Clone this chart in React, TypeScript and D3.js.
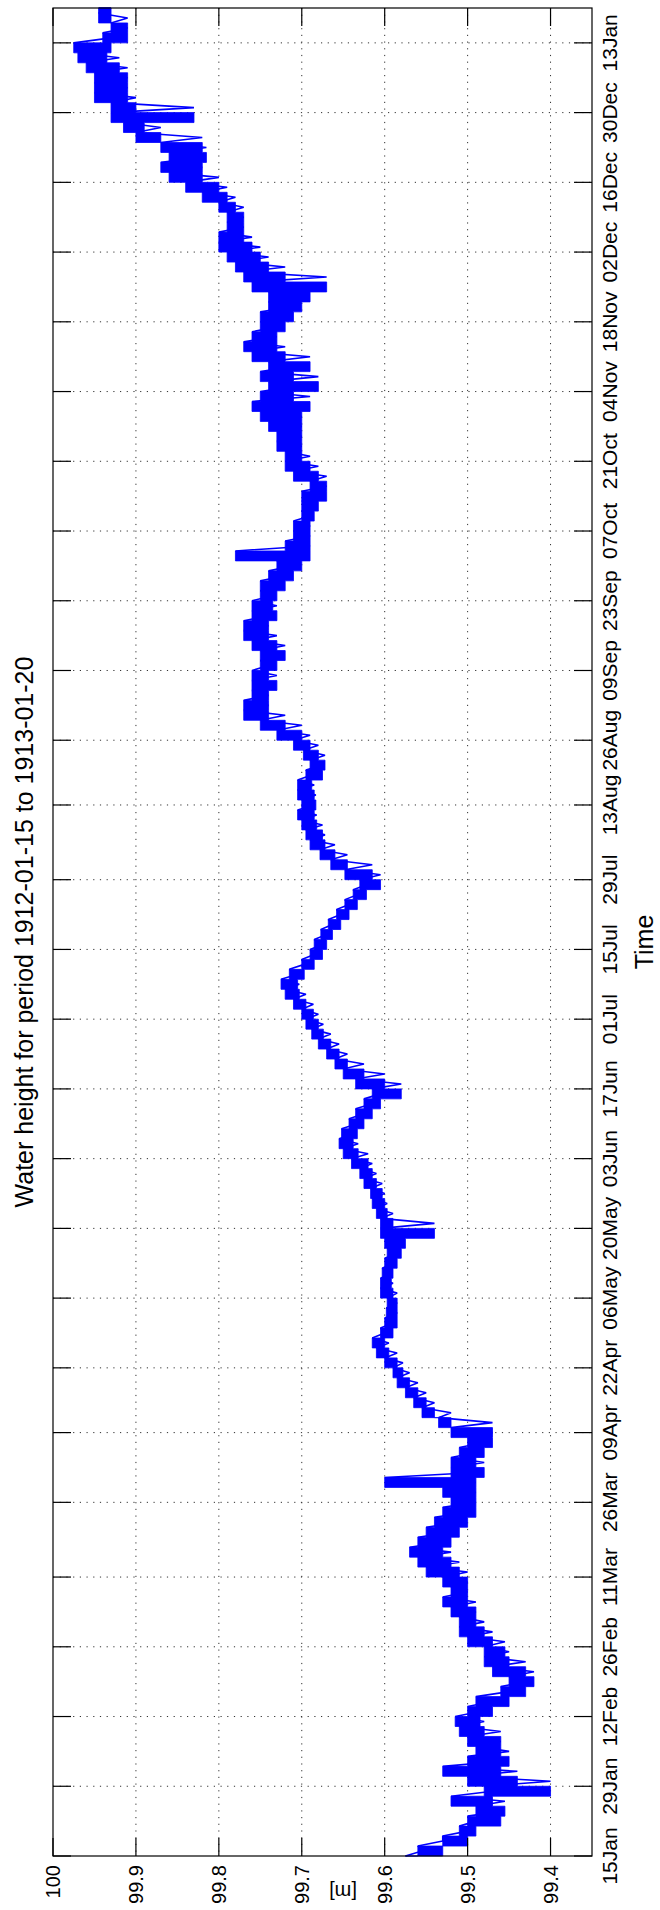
import React from 'react';
import * as d3 from 'd3';

const W = 660;
const H = 1910;

const startDate = '1912-01-15';
const endDate = '1913-01-20';

const tickDates = [
  '1912-01-15', '1912-01-29', '1912-02-12', '1912-02-26', '1912-03-11', '1912-03-26',
  '1912-04-09', '1912-04-22', '1912-05-06', '1912-05-20', '1912-06-03', '1912-06-17',
  '1912-07-01', '1912-07-15', '1912-07-29', '1912-08-13', '1912-08-26', '1912-09-09',
  '1912-09-23', '1912-10-07', '1912-10-21', '1912-11-04', '1912-11-18', '1912-12-02',
  '1912-12-16', '1912-12-30', '1913-01-13',
];

const valueTicks = [100, 99.9, 99.8, 99.7, 99.6, 99.5, 99.4];
const valueTickLabels = ['100', '99.9', '99.8', '99.7', '99.6', '99.5', '99.4'];

// days since 1912-01-15
const dayOffset = [
  0, 2, 4, 6, 8, 10, 12, 14, 16, 18, 20, 22, 24, 26, 28, 30, 32, 34, 36, 38,
  40, 42, 44, 46, 48, 50, 52, 54, 56, 58, 60, 62, 64, 66, 68, 70, 72, 74, 76, 78,
  80, 82, 84, 86, 88, 90, 92, 94, 96, 98, 100, 102, 104, 106, 108, 110, 112, 114, 116, 118,
  120, 122, 124, 126, 128, 130, 132, 134, 136, 138, 140, 142, 144, 146, 148, 150, 152, 154, 156, 158,
  160, 162, 164, 166, 168, 170, 172, 174, 176, 178, 180, 182, 184, 186, 188, 190, 192, 194, 196, 198,
  200, 202, 204, 206, 208, 210, 212, 214, 216, 218, 220, 222, 224, 226, 228, 230, 232, 234, 236, 238,
  240, 242, 244, 246, 248, 250, 252, 254, 256, 258, 260, 262, 264, 266, 268, 270, 272, 274, 276, 278,
  280, 282, 284, 286, 288, 290, 292, 294, 296, 298, 300, 302, 304, 306, 308, 310, 312, 314, 316, 318,
  320, 322, 324, 326, 328, 330, 332, 334, 336, 338, 340, 342, 344, 346, 348, 350, 352, 354, 356, 358,
  360, 362, 364, 366, 368, 370,
];

// upper reading of the water height in each 2-day window [m]
const levelHigh = [
  99.575, 99.56, 99.53, 99.51, 99.50, 99.49, 99.52, 99.48, 99.50, 99.53,
  99.50, 99.49, 99.50, 99.51, 99.515, 99.50, 99.49, 99.46, 99.45, 99.47,
  99.48, 99.48, 99.50, 99.51, 99.51, 99.52, 99.53, 99.52, 99.53, 99.55,
  99.56, 99.57, 99.56, 99.55, 99.54, 99.53, 99.52, 99.53, 99.60, 99.52,
  99.52, 99.51, 99.50, 99.52, 99.535, 99.555, 99.565, 99.575, 99.585, 99.59,
  99.60, 99.61, 99.615, 99.605, 99.60, 99.598, 99.597, 99.605, 99.605, 99.603,
  99.60, 99.597, 99.60, 99.605, 99.605, 99.61, 99.615, 99.617, 99.625, 99.63,
  99.64, 99.65, 99.655, 99.652, 99.643, 99.635, 99.625, 99.615, 99.635, 99.65,
  99.66, 99.67, 99.68, 99.688, 99.695, 99.70, 99.71, 99.72, 99.725, 99.715,
  99.70, 99.69, 99.685, 99.677, 99.668, 99.658, 99.648, 99.638, 99.63, 99.648,
  99.665, 99.678, 99.69, 99.695, 99.70, 99.705, 99.70, 99.705, 99.705, 99.695,
  99.69, 99.698, 99.71, 99.73, 99.75, 99.77, 99.77, 99.76, 99.76, 99.76,
  99.75, 99.75, 99.76, 99.77, 99.77, 99.76, 99.76, 99.75, 99.75, 99.74,
  99.73, 99.78, 99.72, 99.71, 99.71, 99.70, 99.70, 99.70, 99.69, 99.71,
  99.72, 99.72, 99.73, 99.73, 99.74, 99.75, 99.76, 99.75, 99.74, 99.75,
  99.74, 99.76, 99.77, 99.76, 99.75, 99.75, 99.74, 99.74, 99.76, 99.77,
  99.78, 99.79, 99.80, 99.80, 99.79, 99.79, 99.80, 99.82, 99.84, 99.86,
  99.87, 99.86, 99.87, 99.90, 99.915, 99.93, 99.93, 99.95, 99.95, 99.95,
  99.96, 99.97, 99.975, 99.94, 99.93, 99.945,
];

// lower reading of the water height in each 2-day window [m]
const levelLow = [
  99.555, 99.53, 99.50, 99.49, 99.46, 99.455, 99.47, 99.40, 99.44, 99.46,
  99.45, 99.46, 99.46, 99.48, 99.485, 99.47, 99.45, 99.43, 99.42, 99.43,
  99.45, 99.455, 99.47, 99.48, 99.49, 99.49, 99.50, 99.50, 99.50, 99.51,
  99.52, 99.53, 99.52, 99.51, 99.50, 99.49, 99.49, 99.49, 99.49, 99.48,
  99.49, 99.48, 99.47, 99.47, 99.52, 99.54, 99.55, 99.56, 99.57, 99.578,
  99.585, 99.595, 99.60, 99.59, 99.585, 99.585, 99.585, 99.59, 99.592, 99.59,
  99.585, 99.58, 99.575, 99.54, 99.59, 99.597, 99.60, 99.603, 99.61, 99.615,
  99.62, 99.632, 99.638, 99.633, 99.625, 99.615, 99.605, 99.58, 99.60, 99.625,
  99.645, 99.655, 99.665, 99.674, 99.68, 99.686, 99.695, 99.703, 99.705, 99.697,
  99.685, 99.675, 99.67, 99.663, 99.653, 99.643, 99.633, 99.622, 99.605, 99.615,
  99.645, 99.66, 99.672, 99.675, 99.682, 99.685, 99.683, 99.685, 99.688, 99.675,
  99.672, 99.68, 99.69, 99.70, 99.72, 99.74, 99.74, 99.74, 99.73, 99.74,
  99.73, 99.72, 99.73, 99.74, 99.74, 99.73, 99.735, 99.73, 99.72, 99.71,
  99.70, 99.69, 99.69, 99.69, 99.69, 99.685, 99.68, 99.67, 99.67, 99.68,
  99.69, 99.70, 99.70, 99.70, 99.70, 99.70, 99.69, 99.71, 99.68, 99.71,
  99.69, 99.72, 99.73, 99.73, 99.72, 99.71, 99.70, 99.69, 99.67, 99.72,
  99.74, 99.75, 99.76, 99.77, 99.77, 99.77, 99.78, 99.79, 99.80, 99.82,
  99.82, 99.815, 99.82, 99.87, 99.89, 99.83, 99.90, 99.91, 99.91, 99.91,
  99.92, 99.935, 99.93, 99.91, 99.91, 99.93,
];

const DAY = 86400000;
const FONT = '"Liberation Sans", Arial, Helvetica, sans-serif';

type Bin = { t: Date; hi: number; lo: number };

export default function App() {
  const left = 53;
  const right = 592;
  const top = 8;
  const bottom = 1856;
  const tickLen = 18;

  const parse = d3.utcParse('%Y-%m-%d');
  const t0 = parse(startDate) as Date;
  const t1 = parse(endDate) as Date;

  const x = d3.scaleLinear().domain([100, 99.35]).range([left, right]);
  const y = d3.scaleUtc().domain([t0, t1]).range([bottom, top]);

  const ticks = tickDates.map((s) => parse(s) as Date);
  const fmt = d3.utcFormat('%d%b');

  const bins: Bin[] = dayOffset.map((d, i) => ({
    t: new Date(t0.getTime() + d * DAY),
    hi: levelHigh[i],
    lo: levelLow[i],
  }));
  bins.push({ t: t1, hi: levelHigh[levelHigh.length - 1], lo: levelLow[levelLow.length - 1] });

  const band = d3
    .area<Bin>()
    .curve(d3.curveStepAfter)
    .y((b) => y(b.t))
    .x0((b) => x(b.lo))
    .x1((b) => x(b.hi));

  // trace alternating between the high and low reading of each window
  const pts: [Date, number][] = [];
  dayOffset.forEach((d, i) => {
    pts.push([new Date(t0.getTime() + d * DAY), levelHigh[i]]);
    pts.push([new Date(t0.getTime() + (d + 1) * DAY), levelLow[i]]);
  });
  pts.push([t1, levelHigh[levelHigh.length - 1]]);

  const trace = d3
    .line<[Date, number]>()
    .x((p) => x(p[1]))
    .y((p) => y(p[0]));

  const gridStyle = { stroke: '#333', strokeWidth: 1, strokeDasharray: '1.2,5.5' };
  const midY = (top + bottom) / 2;

  return (
    <svg
      width={W}
      height={H}
      style={{ position: 'absolute', left: 0, top: 0, background: '#fff' }}
      fontFamily={FONT}
    >
      <rect x={0} y={0} width={W} height={H} fill="#fff" />
      {valueTicks.slice(1).map((v) => (
        <line key={'gv' + v} x1={x(v)} x2={x(v)} y1={top} y2={bottom} style={gridStyle} />
      ))}
      {ticks.slice(1).map((t, i) => (
        <line key={'gt' + i} x1={left} x2={right} y1={y(t)} y2={y(t)} style={gridStyle} />
      ))}
      <path d={band(bins) || ''} fill="#0000ff" stroke="#0000ff" strokeWidth={0.8} />
      <path
        d={trace(pts) || ''}
        fill="none"
        stroke="#0000ff"
        strokeWidth={1.6}
        strokeLinejoin="bevel"
      />
      <rect x={left} y={top} width={right - left} height={bottom - top} fill="none" stroke="#000" strokeWidth={1.2} />
      {valueTicks.map((v) => (
        <g key={'tv' + v} stroke="#000" strokeWidth={1.2}>
          <line x1={x(v)} x2={x(v)} y1={bottom} y2={bottom - tickLen} />
          <line x1={x(v)} x2={x(v)} y1={top} y2={top + tickLen} />
        </g>
      ))}
      {ticks.map((t, i) => (
        <g key={'tt' + i} stroke="#000" strokeWidth={1.2}>
          <line x1={left} x2={left + tickLen} y1={y(t)} y2={y(t)} />
          <line x1={right} x2={right - tickLen} y1={y(t)} y2={y(t)} />
        </g>
      ))}
      {valueTicks.map((v, i) => (
        <text
          key={'lv' + v}
          transform={`translate(${x(v)},1865) rotate(-90)`}
          textAnchor="end"
          dominantBaseline="central"
          fontSize={20}
          fill="#000"
        >
          {valueTickLabels[i]}
        </text>
      ))}
      {ticks.map((t, i) => (
        <text
          key={'lt' + i}
          transform={`translate(617,${y(t)}) rotate(-90)`}
          textAnchor="middle"
          fontSize={21}
          fill="#000"
        >
          {fmt(t)}
        </text>
      ))}
      <text
        transform={`translate(343,1892) rotate(180)`}
        textAnchor="middle"
        dominantBaseline="central"
        fontSize={20}
        fill="#000"
      >
        [m]
      </text>
      <text transform={`translate(653,942) rotate(-90)`} textAnchor="middle" fontSize={25} fill="#000">
        Time
      </text>
      <text transform={`translate(33,${midY}) rotate(-90)`} textAnchor="middle" fontSize={25} fill="#000">
        Water height for period 1912-01-15 to 1913-01-20
      </text>
    </svg>
  );
}
